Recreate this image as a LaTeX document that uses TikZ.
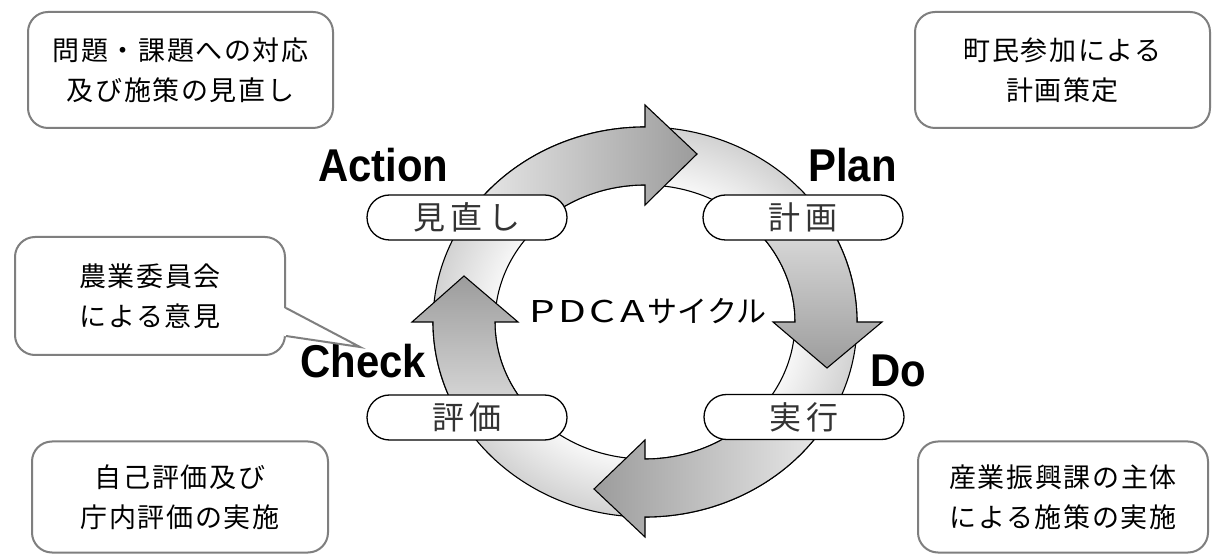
\documentclass[tikz,border=0pt]{standalone}
\usepackage{fontspec}
\setmainfont{Liberation Sans}
\newfontfamily\jpfont{Noto Sans CJK JP}
\newfontfamily\jpboxfont{Noto Sans CJK JP}[LetterSpace=6]
\newfontfamily\jppillfont{Noto Sans CJK JP}[LetterSpace=16]
\usetikzlibrary{shapes.misc,calc}

\definecolor{boxborder}{HTML}{7F7F7F}
\definecolor{headgray}{HTML}{9C9C9C}
\definecolor{taillight}{HTML}{E6E6E6}
\definecolor{ringgray}{HTML}{D2D2D2}
\definecolor{pilltext}{HTML}{333333}

% ring background: white towards the middle, light grey at the rim
\pgfdeclareradialshading{ringshade}{\pgfpoint{0bp}{0bp}}{%
  color(0bp)=(white); color(16bp)=(white); color(25bp)=(ringgray); color(50bp)=(ringgray)}

% ellipse centre and radii of the cycle ring
\def\cx{645}\def\cy{232}
\def\rxo{212}\def\ryo{195}
\def\rxi{150}\def\ryi{137}

% one wide latin letter of the centre title
\newcommand{\wideletter}[1]{\makebox[30pt][c]{\scalebox{1.35}[1]{#1}}}

\begin{document}
\begin{tikzpicture}[x=1pt,y=1pt,
  infobox/.style={draw=boxborder, line width=2pt, rounded corners=20pt, fill=white,
    align=center, inner sep=0pt, font=\jpboxfont\fontsize{27}{40}\selectfont},
  pill/.style={rounded rectangle, draw=black, line width=1.3pt, fill=white,
    minimum width=200pt, minimum height=45pt, inner sep=0pt, text=pilltext,
    font=\jppillfont\fontsize{32}{34}\selectfont},
  cyclearrow/.style={draw=black, line width=1.1pt, line join=miter},
  ringpart/.style={draw=black, line width=1.1pt},
  phase/.style={anchor=base west, inner sep=0pt, font=\fontsize{46}{50}\selectfont\bfseries}]

\useasboundingbox (0,0) rectangle (1212,554);
\fill[white] (0,0) rectangle (1212,554);

% ---- ring ----
\path[ringpart, shading=ringshade, even odd rule]
  (\cx,\cy) ellipse[x radius=\rxo, y radius=\ryo]
  (\cx,\cy) ellipse[x radius=\rxi, y radius=\ryi];

% ---- four arrows of the cycle ----
% Action -> Plan
\draw[cyclearrow, left color=taillight, right color=headgray]
  ({\cx+\rxo*cos(142)},{\cy+\ryo*sin(142)})
  arc[start angle=142, end angle=90, x radius=\rxo, y radius=\ryo]
  -- (\cx,449) -- (697,400) -- (\cx,349) -- (\cx,{\cy+\ryi})
  arc[start angle=90, end angle=142, x radius=\rxi, y radius=\ryi] -- cycle;
% Plan -> Do
\draw[cyclearrow, top color=taillight, bottom color=headgray]
  ({\cx+\rxo*cos(38)},{\cy+\ryo*sin(38)})
  arc[start angle=38, end angle=0, x radius=\rxo, y radius=\ryo]
  -- (882,\cy) -- (827,186) -- (773,\cy) -- ({\cx+\rxi},\cy)
  arc[start angle=0, end angle=38, x radius=\rxi, y radius=\ryi] -- cycle;
% Do -> Check
\draw[cyclearrow, right color=taillight, left color=headgray]
  ({\cx+\rxo*cos(-36)},{\cy+\ryo*sin(-36)})
  arc[start angle=-36, end angle=-90, x radius=\rxo, y radius=\ryo]
  -- (\cx,17) -- (594,65) -- (\cx,114) -- (\cx,{\cy-\ryi})
  arc[start angle=-90, end angle=-36, x radius=\rxi, y radius=\ryi] -- cycle;
% Check -> Action
\draw[cyclearrow, bottom color=taillight, top color=headgray]
  ({\cx+\rxo*cos(216)},{\cy+\ryo*sin(216)})
  arc[start angle=216, end angle=180, x radius=\rxo, y radius=\ryo]
  -- (412,\cy) -- (464,278) -- (518,\cy) -- ({\cx-\rxi},\cy)
  arc[start angle=180, end angle=216, x radius=\rxi, y radius=\ryi] -- cycle;

% ---- stage pills ----
\node[pill] (act)   at (467,336.5) {見直し};
\node[pill] (plan)  at (803,336.5) {計画};
\node[pill] (check) at (467,136.5) {評価};
\node[pill] (do)    at (804,137)   {実行};

% ---- stage names ----
\node[phase] (actlbl)   at (318,372) {\scalebox{0.91}[1]{Action}};
\node[phase] (planlbl)  at (808,372) {\scalebox{0.91}[1]{Plan}};
\node[phase] (checklbl) at (300,176) {\scalebox{0.91}[1]{Check}};
\node[phase] (dolbl)    at (870,167) {\scalebox{0.91}[1]{Do}};

% ---- centre title ----
\node[inner sep=0pt, font=\jpfont\fontsize{30}{32}\selectfont] (title) at (647,243)
  {\wideletter{P}\wideletter{D}\wideletter{C}\wideletter{A}サイクル};

% ---- explanation boxes ----
\node[infobox, minimum width=305pt, minimum height=116pt] (tl) at (180.5,484)
  {問題・課題への対応\\及び施策の見直し};
\node[infobox, minimum width=295pt, minimum height=116pt] (tr) at (1062.5,484)
  {町民参加による\\計画策定};
\node[infobox, minimum width=296pt, minimum height=111pt] (bl) at (180,57)
  {自己評価及び\\庁内評価の実施};
\node[infobox, minimum width=290pt, minimum height=111pt] (br) at (1063,57)
  {産業振興課の主体\\による施策の実施};

% callout with a pointer towards Check
\node[infobox, minimum width=270pt, minimum height=118pt] (cl) at (150,258)
  {農業委員会\\による意見};
\coordinate (tailtip) at (360,207);
\fill[white] ($(cl.east)+(-2,-12)$) -- (tailtip) -- ($(cl.east)+(-2,-40)$) -- cycle;
\draw[boxborder, line width=2pt, line join=miter]
  ($(cl.east)+(0,-12)$) -- (tailtip) -- ($(cl.east)+(0,-40)$);

\end{tikzpicture}
\end{document}
